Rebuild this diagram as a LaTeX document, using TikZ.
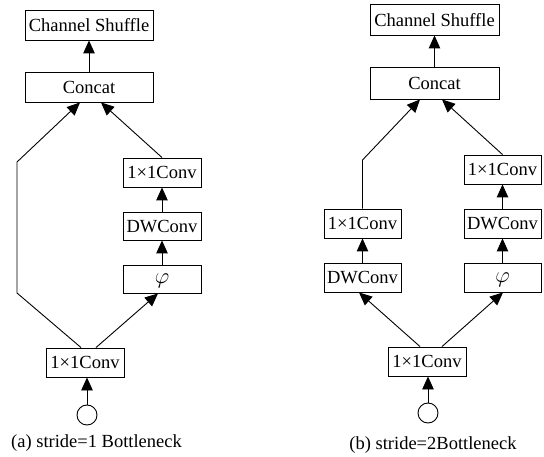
\documentclass[tikz,border=0pt]{standalone}
\usepackage{fontspec}
\setmainfont{Liberation Serif}
\usetikzlibrary{arrows.meta}
\begin{document}
\begin{tikzpicture}[x=1pt,y=-1pt,
  every node/.style={font=\fontsize{18.5}{20}\selectfont, inner sep=0pt},
  blk/.style={draw, line width=0.9pt, minimum height=29pt, text depth=0pt},
  wide/.style={blk, minimum width=128pt},
  narrow/.style={blk, minimum width=78pt},
  arr/.style={line width=0.9pt, -{Triangle[length=13pt,width=11.5pt]}},
  ln/.style={line width=0.9pt}]
\useasboundingbox (0,0) rectangle (544,457);
\newcommand{\phisym}{\scalebox{1.3}{$\varphi$}}
% ---------- (a) ----------
\node[wide, minimum height=30pt] (csA) at (89,25) {Channel Shuffle};
\node[wide, minimum height=30pt] (concatA) at (89,87) {Concat};
\node[narrow] (c1A) at (162,172.5) {1×1Conv};
\node[narrow, minimum height=28pt] (dwA) at (162,226) {DWConv};
\node[narrow, minimum height=28pt] (phiA) at (162,279) {\phisym};
\node[narrow] (botA) at (85,362.5) {1×1Conv};
\node[draw, circle, line width=0.9pt, minimum size=20pt] (circA) at (87,415) {};
\node (capA) at (96.5,443) {(a) stride=1 Bottleneck};
\coordinate (bendA1) at (17,293);
\coordinate (bendA2) at (17,162);
\draw[arr] (concatA.north) -- (csA.south);
\draw[arr] (c1A.north) -- ([xshift=12pt]concatA.south);
\draw[arr] (dwA.north) -- (c1A.south);
\draw[arr] (phiA.north) -- (dwA.south);
\draw[arr] ([xshift=11pt]botA.north) -- ([xshift=-4pt]phiA.south);
\draw[arr] ([xshift=-4pt]botA.north) -- (bendA1) -- (bendA2) -- ([xshift=-9pt]concatA.south);
\draw[arr] (circA.north) -- (circA.north |- botA.south);
% ---------- (b) ----------
\node[wide, minimum width=129pt, minimum height=31pt] (csB) at (434.5,19.5) {Channel Shuffle};
\node[wide, minimum width=129pt, minimum height=32pt] (concatB) at (434.5,83) {Concat};
\node[narrow, minimum width=77pt] (c1Bl) at (362.5,223.5) {1×1Conv};
\node[narrow, minimum width=77pt] (dwBl) at (362.5,277.5) {DWConv};
\node[narrow, minimum width=77pt] (c1Br) at (502.5,169.5) {1×1Conv};
\node[narrow, minimum width=77pt] (dwBr) at (502.5,223.5) {DWConv};
\node[narrow, minimum width=77pt] (phiBr) at (502.5,277.5) {\phisym};
\node[narrow] (botB) at (427,361.5) {1×1Conv};
\node[draw, circle, line width=0.9pt, minimum size=20pt] (circB) at (428,413) {};
\node (capB) at (433,445) {(b) stride=2Bottleneck};
\coordinate (bendB) at (362.5,160);
\draw[arr] (concatB.north) -- (csB.south);
\draw[arr] (c1Bl.north) -- (bendB) -- ([xshift=-14.5pt]concatB.south);
\draw[arr] (c1Br.north) -- ([xshift=7.5pt]concatB.south);
\draw[arr] (dwBl.north) -- (c1Bl.south);
\draw[arr] (dwBr.north) -- (c1Br.south);
\draw[arr] (phiBr.north) -- (dwBr.south);
\draw[arr] ([xshift=-7pt]botB.north) -- ([xshift=-3.5pt]dwBl.south);
\draw[arr] ([xshift=15pt]botB.north) -- ([xshift=0.5pt]phiBr.south);
\draw[arr] (circB.north) -- (circB.north |- botB.south);
\end{tikzpicture}
\end{document}
